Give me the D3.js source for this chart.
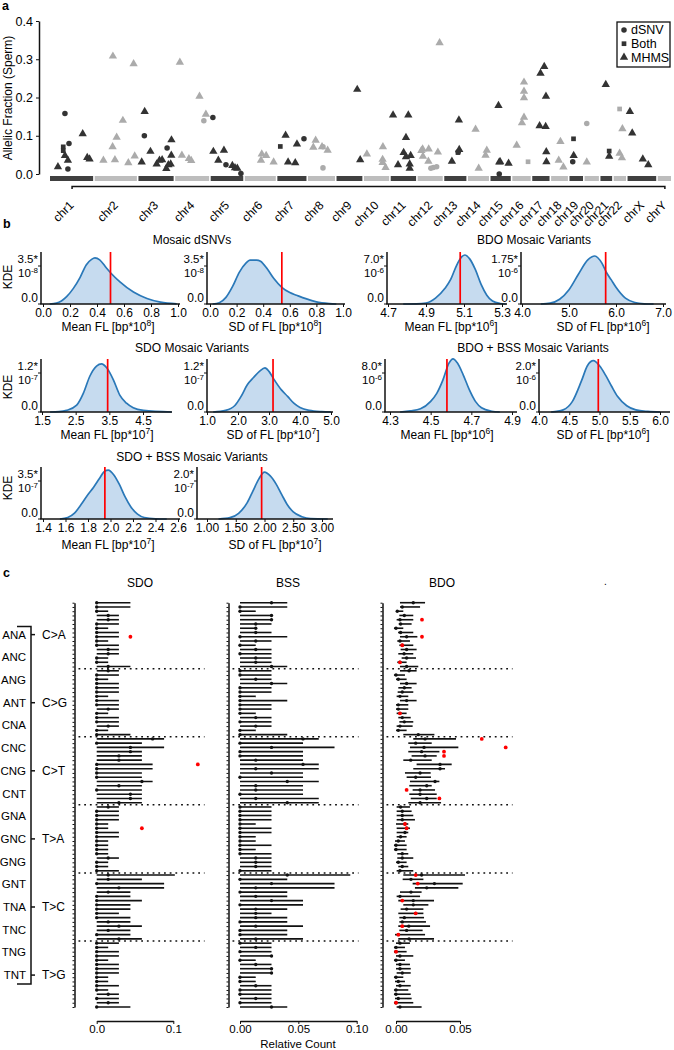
<!DOCTYPE html>
<html>
<head>
<meta charset="utf-8">
<script src="https://cdn.jsdelivr.net/npm/d3@7/dist/d3.min.js"></script>
<style>
html,body{margin:0;padding:0;background:#fff;}
svg{display:block;}
</style>
</head>
<body>
<svg id="fig" width="674" height="1050"></svg>
<script>
// ======================= DATA =======================
// ---- Panel a ----
const chromosomes = ["chr1","chr2","chr3","chr4","chr5","chr6","chr7","chr8","chr9","chr10","chr11","chr12",
  "chr13","chr14","chr15","chr16","chr17","chr18","chr19","chr20","chr21","chr22","chrX","chrY"];
const chromLengthsMb = [249,243,198,190,181,171,159,145,138,134,135,133,114,107,102,90,83,80,59,64,47,51,156,57];
const afTicks = [0, 0.1, 0.2, 0.3, 0.4];
const variantTypes = ["dSNV", "Both", "MHMS"];
// [chromosome, position (Mb), allelic fraction, type]
const variants = [
  ["chr1",37,.019,"MHMS"],["chr1",82,.158,"dSNV"],["chr1",71,.071,"Both"],["chr1",71,.061,"Both"],["chr1",82,.048,"MHMS"],
  ["chr1",101,.036,"MHMS"],["chr1",108,.080,"dSNV"],["chr1",101,.013,"dSNV"],["chr1",196,.105,"MHMS"],["chr1",225,.043,"MHMS"],["chr1",240,.039,"MHMS"],
  ["chr2",42,.036,"MHMS"],["chr2",103,.308,"MHMS"],["chr2",101,.071,"MHMS"],["chr2",127,.096,"MHMS"],["chr2",116,.037,"MHMS"],
  ["chr2",167,.140,"MHMS"],["chr2",202,.029,"MHMS"],["chr2",236,.288,"MHMS"],["chr2",243,.047,"MHMS"],
  ["chr3",7,.031,"MHMS"],["chr3",24,.100,"dSNV"],["chr3",26,.163,"MHMS"],["chr3",63,.059,"MHMS"],["chr3",103,.026,"MHMS"],
  ["chr3",121,.036,"MHMS"],["chr3",138,.037,"MHMS"],["chr3",170,.068,"dSNV"],["chr3",165,.014,"MHMS"],["chr3",178,.024,"MHMS"],
  ["chr3",193,.026,"MHMS"],["chr3",198,.089,"MHMS"],["chr3",197,.049,"MHMS"],
  ["chr4",16,.292,"MHMS"],["chr4",29,.049,"MHMS"],["chr4",74,.040,"MHMS"],["chr4",89,.035,"MHMS"],["chr4",142,.203,"MHMS"],
  ["chr4",170,.139,"dSNV"],["chr4",183,.156,"MHMS"],
  ["chr5",0,.148,"dSNV"],["chr5",3,.059,"MHMS"],["chr5",35,.036,"MHMS"],["chr5",71,.062,"MHMS"],["chr5",84,.024,"dSNV"],
  ["chr5",125,.022,"MHMS"],["chr5",142,.016,"MHMS"],["chr5",157,.015,"MHMS"],["chr5",180,.001,"dSNV"],
  ["chr6",95,.052,"MHMS"],["chr6",90,.036,"MHMS"],["chr6",123,.048,"MHMS"],["chr6",171,.031,"MHMS"],
  ["chr7",5,.072,"Both"],["chr7",39,.101,"MHMS"],["chr7",55,.031,"MHMS"],["chr7",101,.029,"MHMS"],["chr7",112,.078,"MHMS"],["chr7",157,.092,"dSNV"],
  ["chr8",20,.070,"MHMS"],["chr8",35,.088,"MHMS"],["chr8",76,.071,"MHMS"],["chr8",82,.071,"dSNV"],["chr8",82,.016,"dSNV"],["chr8",112,.062,"MHMS"],
  ["chr9",119,.221,"MHMS"],["chr9",138,.037,"MHMS"],
  ["chr10",5,.052,"MHMS"],["chr10",108,.071,"MHMS"],["chr10",106,.038,"MHMS"],["chr10",106,.030,"MHMS"],["chr10",125,.017,"MHMS"],
  ["chr11",1,.154,"MHMS"],["chr11",33,.024,"MHMS"],["chr11",69,.056,"MHMS"],["chr11",84,.095,"MHMS"],["chr11",84,.045,"MHMS"],
  ["chr11",99,.154,"MHMS"],["chr11",114,.048,"MHMS"],["chr11",108,.026,"MHMS"],["chr11",108,.015,"MHMS"],
  ["chr12",18,.065,"MHMS"],["chr12",10,.061,"MHMS"],["chr12",57,.065,"MHMS"],["chr12",20,.046,"MHMS"],["chr12",55,.033,"MHMS"],
  ["chr12",71,.015,"dSNV"],["chr12",87,.017,"dSNV"],["chr12",108,.019,"dSNV"],["chr12",116,.057,"MHMS"],["chr12",127,.343,"MHMS"],
  ["chr13",35,.033,"MHMS"],["chr13",80,.141,"MHMS"],["chr13",76,.058,"dSNV"],["chr13",82,.064,"MHMS"],["chr13",74,.056,"Both"],
  ["chr14",35,.117,"MHMS"],["chr14",55,.015,"MHMS"],["chr14",99,.049,"MHMS"],["chr14",107,.062,"MHMS"],
  ["chr15",37,.179,"MHMS"],["chr15",42,.031,"MHMS"],["chr15",42,.000,"dSNV"],["chr15",48,.032,"MHMS"],["chr15",102,.028,"MHMS"],
  ["chr16",14,.075,"MHMS"],["chr16",48,.134,"MHMS"],["chr16",61,.148,"MHMS"],["chr16",61,.240,"MHMS"],["chr16",61,.216,"MHMS"],
  ["chr16",61,.199,"MHMS"],["chr16",87,.032,"Both"],
  ["chr17",33,.126,"MHMS"],["chr17",39,.263,"MHMS"],["chr17",63,.281,"MHMS"],["chr17",74,.203,"MHMS"],["chr17",72,.124,"MHMS"],
  ["chr17",76,.058,"MHMS"],["chr17",77,.032,"MHMS"],
  ["chr18",46,.085,"MHMS"],["chr18",35,.036,"MHMS"],["chr18",65,.018,"MHMS"],
  ["chr19",12,.092,"Both"],["chr19",13,.048,"MHMS"],["chr19",7,.032,"dSNV"],
  ["chr20",0,.132,"dSNV"],["chr20",0,.031,"MHMS"],
  ["chr21",20,.234,"MHMS"],["chr21",42,.060,"Both"],["chr21",42,.046,"MHMS"],
  ["chr22",24,.170,"Both"],["chr22",42,.118,"MHMS"],["chr22",24,.054,"MHMS"],["chr22",39,.042,"MHMS"],
  ["chrX",1,.163,"MHMS"],["chrX",16,.107,"MHMS"],["chrX",84,.039,"MHMS"],["chrX",119,.024,"MHMS"]
];

// ---- Panel b ----
const kdeTitles = ["Mosaic dSNVs","BDO Mosaic Variants","SDO Mosaic Variants","BDO + BSS Mosaic Variants","SDO + BSS Mosaic Variants"];
const flUnitExp = [8, 6, 7, 6, 7];          // x-axis unit exponent (bp*10^n)
const kdeYExp = [-8, -6, -7, -6, -7];       // y label exponent
const kdeMeanYLabel = [3.5, 7.0, 1.2, 8.0, 3.5];
const kdeSDYLabel   = [3.5, 1.75, 1.2, 2.0, 2.0];
const observedMean = [0.50, 5.08, 3.45, 4.58, 1.95];
const observedSD   = [0.54, 5.78, 3.13, 4.98, 1.95];

const dsnvMeanTicks = [0,0.2,0.4,0.6,0.8,1.0];
const dsnvSDTicks   = [0,0.2,0.4,0.6,0.8,1.0];
const bdoMeanTicks  = [4.7,4.9,5.1,5.3];
const bdoSDTicks    = [4,5,6,7];
const sdoMeanTicks  = [1.5,2.5,3.5,4.5];
const sdoSDTicks    = [1,2,3,4,5];
const bdoBssMeanTicks = [4.3,4.5,4.7,4.9];
const bdoBssSDTicks   = [4,4.5,5,5.5,6];
const sdoBssMeanTicks = [1.4,1.6,1.8,2.0,2.2,2.4,2.6];
const sdoBssSDTicks   = [1,1.5,2,2.5,3];

const dsnvMeanX = [0.05,0.10,0.175,0.225,0.275,0.32,0.36,0.385,0.42,0.47,0.50,0.57,0.67,0.77,0.87,0.99];
const dsnvMeanY = [0,0.08,0.68,1.44,2.46,3.60,4.11,4.24,4.07,3.31,2.88,2.04,1.10,0.51,0.17,0.02];
const dsnvSDX = [0.02,0.07,0.12,0.17,0.22,0.27,0.30,0.35,0.38,0.43,0.48,0.54,0.60,0.65,0.72,0.80,0.90,0.95];
const dsnvSDY = [0,0.12,0.61,1.62,2.92,3.77,4.05,4.05,3.93,3.24,2.35,1.54,1.05,0.81,0.49,0.20,0.04,0];
const bdoMeanX = [4.78,4.85,4.90,4.95,5.00,5.03,5.06,5.09,5.105,5.13,5.16,5.19,5.22,5.25,5.29,5.32];
const bdoMeanY = [0,0.03,0.18,1.08,2.89,4.52,7.04,8.76,9.03,8.31,6.32,3.61,1.63,0.54,0.09,0];
const bdoSDX = [4.4,4.6,4.8,5.0,5.2,5.4,5.55,5.7,5.8,5.9,6.0,6.2,6.4,6.6,6.8];
const bdoSDY = [0,0.04,0.22,0.66,1.37,2.03,2.21,1.88,1.44,1.11,0.77,0.27,0.07,0.01,0];
const sdoMeanX = [1.74,2.0,2.23,2.53,2.73,2.92,3.12,3.27,3.42,3.62,3.81,4.01,4.21,4.51,5.35];
const sdoMeanY = [0,0.01,0.05,0.21,0.58,1.10,1.41,1.48,1.36,0.99,0.52,0.27,0.13,0.05,0];
const sdoSDX = [1.2,1.6,1.9,2.1,2.3,2.5,2.7,2.87,3.0,3.15,3.4,3.6,3.8,4.0,4.3,4.7,5.0];
const sdoSDY = [0,0.05,0.20,0.48,0.84,1.06,1.26,1.36,1.25,1.02,0.68,0.48,0.27,0.14,0.05,0.01,0];
const bdoBssMeanX = [4.35,4.40,4.45,4.50,4.53,4.56,4.59,4.61,4.63,4.66,4.69,4.72,4.75,4.80,4.84];
const bdoBssMeanY = [0,0.22,0.65,2.18,3.82,6.54,10.03,10.9,10.14,7.63,4.58,2.18,0.87,0.16,0];
const bdoBssSDX = [4.2,4.4,4.55,4.7,4.8,4.9,5.0,5.1,5.2,5.3,5.45,5.6,5.8,6.0];
const bdoBssSDY = [0,0.11,0.53,1.58,2.37,2.63,2.37,1.89,1.32,0.79,0.32,0.11,0.03,0];
const sdoBssMeanX = [1.55,1.62,1.68,1.74,1.80,1.85,1.90,1.95,1.98,2.03,2.08,2.13,2.18,2.24,2.30,2.40,2.50];
const sdoBssMeanY = [0,0.14,0.54,1.35,2.26,2.93,3.70,4.42,4.51,4.06,3.16,2.03,1.13,0.45,0.14,0.02,0];
const sdoBssSDX = [1.2,1.4,1.55,1.7,1.8,1.9,2.0,2.1,2.2,2.3,2.4,2.5,2.65,2.8,3.1];
const sdoBssSDY = [0,0.07,0.30,0.86,1.48,2.10,2.47,2.27,1.85,1.28,0.74,0.37,0.12,0.02,0];

// ---- Panel c ----
const mutationGroups = ["C>A","C>G","C>T","T>A","T>C","T>G"];
const contexts = ["ANA","ANC","ANG","ANT","CNA","CNC","CNG","CNT","GNA","GNC","GNG","GNT","TNA","TNC","TNG","TNT"];
const sdoDot = [0,0,0,.015,.015,0,0,0,0,0,0,.015,.015,0,0,.015,
  .015,0,0,0,0,0,0,0,0,.015,0,0,0,.015,0,0,
  .073,0,.044,.044,.029,.029,0,0,0,0,.059,.029,0,.044,.044,.029,
  .015,0,0,0,0,0,0,0,0,0,0,0,.015,0,0,0,
  .015,.015,0,.029,.015,0,0,0,0,0,0,.015,.029,.015,0,.029,
  0,0,0,0,0,0,0,0,0,0,0,0,.015,0,.015,0];
const sdoHi = [.044,.044,.015,.029,.029,.029,.015,.029,.029,.015,.029,.029,.029,.015,.015,.044,
  .029,.029,.015,.029,.029,.029,.015,.029,.029,.029,.015,.029,.029,.029,.015,.044,
  .088,.059,.088,.059,.059,.059,.073,.073,.059,.059,.073,.059,.059,.059,.059,.059,
  .029,.029,.029,.029,.015,.015,.029,.029,.015,.015,.015,.015,.029,.015,.015,.029,
  .102,.059,.088,.088,.044,.044,.059,.044,.044,.029,.044,.044,.059,.044,.044,.059,
  .029,.015,.029,.029,.015,.029,.029,.029,.015,.015,.029,.015,.029,.029,.029,.044];
const sdoRedRows = [8, 38, 53];
const sdoRedValues = [.044, .132, .059];

const bssDot = [.027,0,0,.027,.027,.0135,.0135,.0135,0,.0135,0,.0135,0,.0135,.0135,.027,
  0,0,.0135,.027,0,0,0,0,0,0,0,.0135,0,.0135,0,0,
  .054,0,.027,0,0,.0135,.054,.0135,.027,0,.0405,.0135,.0135,0,.0135,.0405,
  0,0,0,0,0,0,0,0,0,0,0,0,.0135,.0135,.0135,0,
  .0405,0,.027,.0135,0,.0135,.027,0,.0135,.0135,.0135,0,.0135,0,0,.0135,
  0,.0135,0,.027,0,.0135,.027,.027,0,0,.0135,0,0,.0135,0,.027];
const bssHi = [.0405,.0405,.0135,.027,.027,.027,.0135,.027,.0405,.027,.0135,.027,.027,.027,.027,.0405,
  .027,.027,.027,.0405,.027,.027,.0135,.0405,.027,.027,.0135,.027,.027,.027,.0135,.0405,
  .0675,.054,.081,.054,.054,.054,.0675,.0675,.054,.054,.0675,.054,.054,.054,.0675,.0675,
  .027,.027,.027,.027,.0135,.027,.027,.0135,.0135,.027,.0135,.027,.027,.027,.027,.027,
  .0945,.0405,.081,.081,.0405,.0405,.054,.054,.0405,.027,.0405,.0405,.054,.0405,.0405,.054,
  .027,.027,.027,.027,.0135,.027,.027,.027,.0135,.0135,.027,.027,.027,.027,.027,.0405];

const bdoLo = [.0031,.0031,0,.0026,.0005,.0021,-.0016,.0016,.0031,.001,.0026,.0036,.0018,.0044,.001,.0031,
  .0031,-.0016,0,.0031,.0018,.0013,.0005,.0031,0,0,.0005,.0018,.0026,.0005,0,.0057,
  .0135,.0096,.0109,.0096,.0122,.0057,.0161,.0135,.007,.0083,.0109,.0104,.013,.0104,.0115,.0096,
  .0005,.0005,.0005,.0005,0,.0005,.0005,.0005,-.0008,-.0016,-.0016,.001,.001,0,.0018,.0005,
  .0057,.0052,.013,.0148,.0031,.0005,.0018,.0057,.0036,.0018,.0026,.0026,.0018,.0026,-.0008,.0018,
  0,-.0016,-.0016,0,-.0016,0,0,.0005,-.0016,-.0008,0,-.0016,-.0016,-.0008,-.0016,.0005];
const bdoDot = [.0135,.0049,.001,.0065,.0031,.0036,0,.0036,.0083,.0031,.0049,.0083,.0063,.0083,.0031,.0083,
  .0102,0,.0018,.0083,.0065,.0049,.0031,.0083,.0018,.0018,.0031,.0049,.0065,.0031,.0018,.0174,
  .0227,.0154,.0219,.02,.0227,.0115,.0344,.0344,.0188,.0154,.0305,.024,.0188,.0188,.024,.0188,
  .0036,.0049,.0049,.0049,.007,.0083,.007,.0036,.0018,0,0,.0049,.0049,.0018,.0049,.0031,
  .02,.0117,.03,.024,.0117,.0031,.0135,.0135,.0083,.0154,.0065,.0049,.01,.0083,.0018,.0102,
  .0031,0,0,.0031,0,.0031,.0031,.0049,0,.0018,.0031,0,0,.0018,0,.0031];
const bdoHi = [.0227,.0188,.0057,.0135,.0135,.0122,.0057,.0135,.0167,.0109,.0135,.0161,.0135,.0156,.0083,.0174,
  .0161,.007,.0083,.0161,.0122,.0135,.0096,.0161,.0096,.0096,.0083,.0115,.0135,.013,.0083,.03,
  .0469,.0279,.0487,.0339,.0318,.0279,.0435,.0383,.0271,.0273,.0339,.0279,.0305,.0318,.0318,.0352,
  .0109,.0122,.0135,.0148,.0096,.0109,.0096,.0083,.007,.0083,.0083,.0096,.0135,.0083,.0096,.0135,
  .0539,.0214,.0521,.0487,.02,.0188,.0297,.0253,.0214,.0214,.0219,.0234,.0266,.0208,.0227,.0297,
  .0109,.007,.0083,.0135,.007,.0109,.0115,.0115,.0057,.007,.0115,.0096,.0115,.0122,.0135,.02];
const bdoRedRows = [4,8,10,14,26,32,34,35,36,44,46,52,53,64,66,70,73,76,78,82,94];
const bdoRedValues = [.0203,.0203,.0049,.0031,.0031,.067,.0857,.0375,.0375,.0083,.0339,.007,.0083,.0154,.017,.0049,.0154,.0049,.0018,0,0];

// ======================= DRAWING =======================
const FONT = '"Liberation Sans", Arial, Helvetica, sans-serif';
const svg = d3.select("#fig").attr("font-family", FONT);
const INK = "#111";

function styleAxis(sel, fs) {
  sel.attr("font-family", FONT).attr("font-size", fs);
  sel.selectAll("text").attr("fill", "#000");
  sel.selectAll("line").attr("stroke", INK);
  sel.select(".domain").attr("stroke", INK).attr("stroke-width", 1.5);
}
function panelLetter(t, x, y) {
  svg.append("text").attr("x", x).attr("y", y).attr("font-size", 12.5).attr("font-weight", "bold").text(t);
}

// ---------------- Panel a ----------------
panelLetter("a", 2, 10);
const padMb = 14, gapMb = 10;
const chromStart = [];
let acc = 0;
chromLengthsMb.forEach(L => { chromStart.push(acc); acc += L + 2 * padMb + gapMb; });
const genomeTotal = acc - gapMb;
const xa = d3.scaleLinear().domain([0, genomeTotal]).range([50, 671]);
const ya = d3.scaleLinear().domain([0, 0.4]).range([174, 21]);
const cIdx = c => chromosomes.indexOf(c);
const gA = svg.append("g");

gA.selectAll("rect.chr").data(chromosomes).join("rect").attr("class", "chr")
  .attr("x", (c, i) => xa(chromStart[i]))
  .attr("width", (c, i) => xa(chromStart[i] + chromLengthsMb[i] + 2 * padMb) - xa(chromStart[i]))
  .attr("y", 176).attr("height", 5)
  .attr("fill", (c, i) => i % 2 === 0 ? "#404040" : "#bdbdbd");

const symType = t => t === "dSNV" ? d3.symbolCircle : (t === "Both" ? d3.symbolSquare : d3.symbolTriangle);
const symSize = t => t === "dSNV" ? 24 : (t === "Both" ? 22 : 30);
gA.selectAll("path.pt").data(variants).join("path").attr("class", "pt")
  .attr("transform", d => `translate(${xa(chromStart[cIdx(d[0])] + padMb + d[1])},${ya(d[2])})`)
  .attr("d", d => d3.symbol().type(symType(d[3])).size(symSize(d[3]))())
  .attr("fill", d => cIdx(d[0]) % 2 === 0 ? "#333333" : "#ababab");

gA.append("g").attr("transform", "translate(39,0)")
  .call(d3.axisLeft(ya).tickValues(afTicks).tickFormat(d3.format(".1f")).tickSize(3).tickSizeOuter(0))
  .call(s => styleAxis(s, 12.5));
gA.append("text").attr("transform", "translate(12,98) rotate(-90)").attr("text-anchor", "middle")
  .attr("font-size", 12).text("Allelic Fraction (Sperm)");

const chromCenters = chromosomes.map((c, i) => xa(chromStart[i] + padMb + chromLengthsMb[i] / 2));
const chrScale = d3.scaleOrdinal().domain(chromosomes).range(chromCenters);
gA.append("g").attr("transform", "translate(0,186)")
  .call(d3.axisBottom(chrScale).tickSizeInner(0).tickSizeOuter(3).tickFormat(""))
  .call(s => styleAxis(s, 12));
gA.selectAll("text.chrlab").data(chromosomes).join("text").attr("class", "chrlab")
  .attr("transform", (c, i) => `translate(${chromCenters[i] + 3},206) rotate(-45)`)
  .attr("text-anchor", "end").attr("font-size", 12).text(c => c);

// legend
const leg = gA.append("g");
leg.append("rect").attr("x", 617).attr("y", 22).attr("width", 53).attr("height", 45)
  .attr("fill", "#fff").attr("stroke", INK).attr("stroke-width", 1.3);
variantTypes.forEach((t, i) => {
  const yy = 30 + i * 13.7;
  leg.append("path").attr("transform", `translate(624,${yy})`)
    .attr("d", d3.symbol().type(symType(t)).size(symSize(t))()).attr("fill", "#333");
  leg.append("text").attr("x", 631).attr("y", yy).attr("dy", "0.35em").attr("font-size", 12.5).text(t);
});

// ---------------- Panel b ----------------
panelLetter("b", 3, 228);
const kdeRows = [
  { top: 252, base: 304, titleY: 331, headY: 244, kdeY: 277 },
  { top: 359, base: 412, titleY: 439, headY: 352, kdeY: 387 },
  { top: 467, base: 519, titleY: 549, headY: 461, kdeY: 488 }
];
const fmtLab = v => Math.abs(Math.round(v * 10) - v * 10) > 1e-9 ? v.toFixed(2) : v.toFixed(1);

const kdePlots = [
  { k: 0, kind: "Mean", row: 0, ax: 41, range: [43, 178], end: 180, ticks: dsnvMeanTicks, fmt: ".1f", xs: dsnvMeanX, ys: dsnvMeanY, tx: 108 },
  { k: 0, kind: "SD",   row: 0, ax: 207, range: [210, 343], end: 345, ticks: dsnvSDTicks, fmt: ".1f", xs: dsnvSDX, ys: dsnvSDY, tx: 275 },
  { k: 1, kind: "Mean", row: 0, ax: 387, range: [388, 502], end: 507, ticks: bdoMeanTicks, fmt: ".1f", xs: bdoMeanX, ys: bdoMeanY, tx: 451 },
  { k: 1, kind: "SD",   row: 0, ax: 521, range: [522, 663], end: 666, ticks: bdoSDTicks, fmt: ".1f", xs: bdoSDX, ys: bdoSDY, tx: 603 },
  { k: 2, kind: "Mean", row: 1, ax: 41, range: [42, 143], end: 172, ticks: sdoMeanTicks, fmt: ".1f", xs: sdoMeanX, ys: sdoMeanY, tx: 107 },
  { k: 2, kind: "SD",   row: 1, ax: 207, range: [207, 331], end: 333, ticks: sdoSDTicks, fmt: ".1f", xs: sdoSDX, ys: sdoSDY, tx: 273 },
  { k: 3, kind: "Mean", row: 1, ax: 385, range: [390, 512], end: 517, ticks: bdoBssMeanTicks, fmt: ".1f", xs: bdoBssMeanX, ys: bdoBssMeanY, tx: 447 },
  { k: 3, kind: "SD",   row: 1, ax: 539, range: [539, 660], end: 670, ticks: bdoBssSDTicks, fmt: ".1f", xs: bdoBssSDX, ys: bdoBssSDY, tx: 603 },
  { k: 4, kind: "Mean", row: 2, ax: 41, range: [43, 178], end: 180, ticks: sdoBssMeanTicks, fmt: ".1f", xs: sdoBssMeanX, ys: sdoBssMeanY, tx: 108 },
  { k: 4, kind: "SD",   row: 2, ax: 197, range: [207, 322], end: 333, ticks: sdoBssSDTicks, fmt: ".2f", xs: sdoBssSDX, ys: sdoBssSDY, tx: 275 }
];
const titleCenters = [192, 534, 192, 533, 192];
const titleRows = [0, 0, 1, 1, 2];
kdeTitles.forEach((t, i) => {
  svg.append("text").attr("x", titleCenters[i]).attr("y", kdeRows[titleRows[i]].headY)
    .attr("text-anchor", "middle").attr("font-size", 12).text(t);
});
kdeRows.forEach(r => {
  svg.append("text").attr("transform", `translate(12,${r.kdeY}) rotate(-90)`).attr("text-anchor", "middle")
    .attr("font-size", 12).text("KDE");
});

function drawKDE(p) {
  const row = kdeRows[p.row];
  const g = svg.append("g");
  const labV = p.kind === "Mean" ? kdeMeanYLabel[p.k] : kdeSDYLabel[p.k];
  const obs = p.kind === "Mean" ? observedMean[p.k] : observedSD[p.k];
  const x = d3.scaleLinear().domain([p.ticks[0], p.ticks[p.ticks.length - 1]]).range(p.range);
  const yMax = labV * (row.base - row.top) / (row.base - row.top - 14);
  const y = d3.scaleLinear().domain([0, yMax]).range([row.base, row.top]);
  const pts = p.xs.map((v, i) => [v, p.ys[i]]);
  g.append("path").datum(pts)
    .attr("d", d3.area().x(d => x(d[0])).y0(row.base).y1(d => y(d[1])).curve(d3.curveMonotoneX))
    .attr("fill", "#c6dbef");
  g.append("path").datum(pts)
    .attr("d", d3.line().x(d => x(d[0])).y(d => y(d[1])).curve(d3.curveMonotoneX))
    .attr("fill", "none").attr("stroke", "#2a78b8").attr("stroke-width", 1.7);
  g.append("line").attr("x1", x(obs)).attr("x2", x(obs)).attr("y1", row.base).attr("y2", row.top)
    .attr("stroke", "#ff0000").attr("stroke-width", 1.7);
  // x axis
  g.append("g").attr("transform", `translate(0,${row.base})`)
    .call(d3.axisBottom(x).tickValues(p.ticks).tickFormat(d3.format(p.fmt)).tickSize(3).tickPadding(1.5))
    .call(s => { styleAxis(s, 12); s.select(".domain").remove(); });
  g.append("line").attr("x1", p.ax - 0.75).attr("x2", p.end).attr("y1", row.base).attr("y2", row.base)
    .attr("stroke", INK).attr("stroke-width", 1.5);
  g.append("line").attr("x1", p.ax).attr("x2", p.ax).attr("y1", row.base).attr("y2", row.top)
    .attr("stroke", INK).attr("stroke-width", 1.5);
  // y ticks
  [0, labV].forEach(v => g.append("line").attr("x1", p.ax - 3).attr("x2", p.ax).attr("y1", y(v)).attr("y2", y(v))
    .attr("stroke", INK).attr("stroke-width", 1));
  g.append("text").attr("x", p.ax - 3).attr("y", row.base - 2).attr("text-anchor", "end").attr("font-size", 12).text("0.0");
  const ty = y(labV);
  g.append("text").attr("x", p.ax - 3).attr("y", ty - 3).attr("text-anchor", "end").attr("font-size", 11.5).text(fmtLab(labV) + "*");
  const t2 = g.append("text").attr("x", p.ax - 3).attr("y", ty + 11).attr("text-anchor", "end").attr("font-size", 11.5);
  t2.append("tspan").text("10");
  t2.append("tspan").attr("dy", -4).attr("font-size", 8).text(String(kdeYExp[p.k]));
  // x title
  const xt = g.append("text").attr("x", p.tx).attr("y", row.titleY).attr("text-anchor", "middle").attr("font-size", 12);
  xt.append("tspan").text((p.kind === "Mean" ? "Mean FL" : "SD of FL") + " [bp*10");
  xt.append("tspan").attr("dy", -5).attr("font-size", 8.5).text(flUnitExp[p.k]);
  xt.append("tspan").attr("dy", 5).text("]");
}
kdePlots.forEach(drawKDE);

// ---------------- Panel c ----------------
panelLetter("c", 3, 577);
const rowIds = mutationGroups.flatMap(g => contexts.map(c => g + " " + c));
const yc = d3.scalePoint().domain(rowIds).range([602.7, 1007]);
const step = yc.step();
const gC = svg.append("g");

const cPanels = [
  { name: "SDO", ax: 74.5, x: d3.scaleLinear().domain([0, 0.1]).range([96.7, 173.3]), ticks: [0, 0.1], fmt: ".1f",
    lo: null, dot: sdoDot, hi: sdoHi, redRows: sdoRedRows, redVals: sdoRedValues, tx: 140 },
  { name: "BSS", ax: 228.5, x: d3.scaleLinear().domain([0, 0.1]).range([240, 356.7]), ticks: [0, 0.05, 0.1], fmt: ".2f",
    lo: null, dot: bssDot, hi: bssHi, redRows: [], redVals: [], tx: 288 },
  { name: "BDO", ax: 382.5, x: d3.scaleLinear().domain([0, 0.05]).range([396, 460]), ticks: [0, 0.05], fmt: ".2f",
    lo: bdoLo, dot: bdoDot, hi: bdoHi, redRows: bdoRedRows, redVals: bdoRedValues, tx: 442 }
];

cPanels.forEach(p => {
  const g = gC.append("g");
  g.append("g").attr("transform", `translate(${p.ax},0)`)
    .call(d3.axisLeft(yc).tickSize(2).tickSizeOuter(0).tickFormat(""))
    .call(s => styleAxis(s, 12));
  for (let k = 1; k < mutationGroups.length; k++) {
    const yy = (yc(rowIds[16 * k - 1]) + yc(rowIds[16 * k])) / 2;
    g.append("line").attr("x1", p.ax + 4).attr("x2", p.ax + 130).attr("y1", yy).attr("y2", yy)
      .attr("stroke", INK).attr("stroke-width", 1.5).attr("stroke-dasharray", "1.8,3.9");
  }
  g.selectAll("line.ci").data(rowIds).join("line").attr("class", "ci")
    .attr("x1", (d, i) => p.x(p.lo ? p.lo[i] : 0)).attr("x2", (d, i) => p.x(p.hi[i]))
    .attr("y1", d => yc(d)).attr("y2", d => yc(d))
    .attr("stroke", INK).attr("stroke-width", 1.6);
  g.selectAll("circle.obs").data(rowIds).join("circle").attr("class", "obs")
    .attr("cx", (d, i) => p.x(p.dot[i])).attr("cy", d => yc(d)).attr("r", 1.7).attr("fill", INK);
  g.selectAll("circle.red").data(p.redRows).join("circle").attr("class", "red")
    .attr("cx", (r, i) => p.x(p.redVals[i])).attr("cy", r => yc(rowIds[r])).attr("r", 1.9).attr("fill", "#ff0000");
  g.append("g").attr("transform", "translate(0,1021)")
    .call(d3.axisBottom(p.x).tickValues(p.ticks).tickFormat(d3.format(p.fmt)).tickSize(3).tickSizeOuter(0).tickPadding(1))
    .call(s => styleAxis(s, 11.5));
  g.append("text").attr("x", p.tx).attr("y", 587).attr("text-anchor", "middle").attr("font-size", 12).text(p.name);
});
gC.append("text").attr("x", 604).attr("y", 585).attr("font-size", 10).text(".");
gC.append("text").attr("x", 298).attr("y", 1047.5).attr("text-anchor", "middle").attr("font-size", 11.5).text("Relative Count");

// context labels and mutation-class bracket
const rowPos = r => 602.7 + r * step;
contexts.forEach((c, k) => {
  gC.append("text").attr("x", 26).attr("y", rowPos(7.5 + k * 80 / 15)).attr("dy", "0.35em")
    .attr("text-anchor", "end").attr("font-size", 11.5).text(c);
});
const brTop = rowPos(7.5) - 8, brBot = rowPos(87.5) + 9;
gC.append("path").attr("d", `M17,${brTop}H31V${brBot}H17`).attr("fill", "none").attr("stroke", INK).attr("stroke-width", 1.5);
mutationGroups.forEach((m, k) => {
  const yy = rowPos(7.5 + 16 * k);
  gC.append("line").attr("x1", 31).attr("x2", 35).attr("y1", yy).attr("y2", yy).attr("stroke", INK).attr("stroke-width", 1.5);
  gC.append("text").attr("x", 42).attr("y", yy).attr("dy", "0.35em").attr("font-size", 12).text(m);
});
</script>
</body>
</html>
